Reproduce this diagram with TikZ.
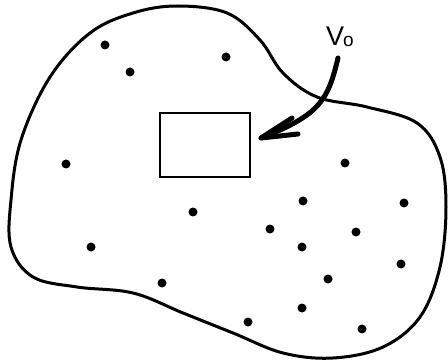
\documentclass[tikz,border=0pt]{standalone}
\usepackage{fontspec}
\setsansfont{Liberation Sans}
\tikzset{
  outline/.style={line width=3pt, line join=round},
  particle/.style={circle, fill=black, inner sep=0pt, minimum size=9pt},
  cell/.style={draw, line width=2.6pt, minimum width=90pt, minimum height=64pt, inner sep=0pt},
  flow/.style={line width=5pt, line cap=round},
  barb/.style={line width=5pt, line cap=round, line join=round},
}
\begin{document}
\begin{tikzpicture}[x=1pt,y=-1pt]
\useasboundingbox (0,0) rectangle (448,361);
% region outline
\draw[outline] plot[smooth cycle, tension=0.6] coordinates {
 (90,33) (133,13) (177,6) (227,13) (260,40) (283,73) (317,97) (367,107)
 (417,123) (440,157) (446,207) (440,267) (420,317) (383,347) (333,358)
 (283,353) (233,333) (183,313) (133,293) (77,287) (33,277) (11,247)
 (11,200) (21,140) (50,77)};
% small volume
\node[cell] (box) at (205,145) {};
% label
\node[font=\sffamily\fontsize{27}{27}\selectfont, anchor=base west, inner sep=0pt] (lab) at (326,46)
  {V\kern-1pt\raisebox{-1pt}{\fontsize{19}{19}\selectfont o}};
\coordinate (start) at (338,58);
\coordinate (tip) at (261,138);
\coordinate (b1) at (292,118);
\coordinate (b2) at (298,134);
\draw[flow] (start) .. controls (328,100) and (320,115) .. (tip);
\draw[barb] (b1) -- (tip) -- (b2);
% particles
\foreach \i/\p in {1/{(105,45)},2/{(130,72)},3/{(226,57)},4/{(66,164)},5/{(345,163)},
  6/{(303,201)},7/{(404,203)},8/{(193,212)},9/{(270,229)},10/{(356,232)},
  11/{(302,247)},12/{(91,247)},13/{(401,264)},14/{(328,279)},15/{(162,283)},
  16/{(302,308)},17/{(248,322)},18/{(362,329)}}
  \node[particle] (p\i) at \p {};
\end{tikzpicture}
\end{document}
